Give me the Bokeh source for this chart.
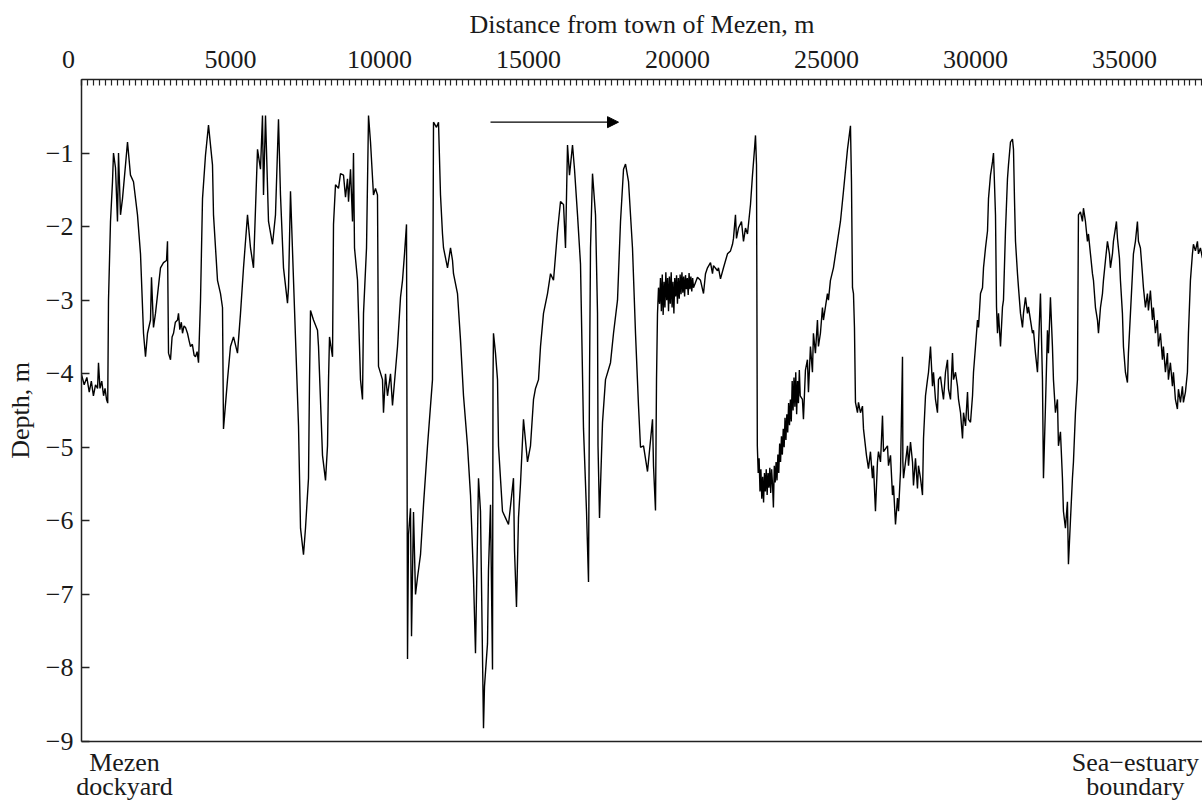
from bokeh.plotting import figure
from bokeh.models import LinearAxis, FixedTicker, Range1d, Arrow, NormalHead
from bokeh.embed import file_html
from bokeh.resources import INLINE

FONT = "Liberation Serif"
FS = "26px"

# ---- data: depth profile along the Mezen estuary ----
distance_m = [
    0, 90, 180, 260, 330, 400, 470, 540, 570, 620, 680, 740, 790, 840, 880,
    906, 973, 1040, 1074, 1141, 1208, 1242, 1309, 1376, 1477, 1544, 1644, 1745, 1879, 1980,
    2081, 2148, 2215, 2316, 2349, 2416, 2483, 2651, 2752, 2853, 2886, 2920, 2987, 3040, 3088,
    3150, 3222, 3255, 3300, 3350, 3390, 3440, 3490, 3557, 3610, 3658, 3720, 3780, 3826, 3880, 3927,
    3994, 4061, 4161, 4262, 4396, 4430, 4564, 4665, 4732, 4765, 4900, 5000, 5101, 5235, 5336,
    5437, 5571, 5672, 5772, 5907, 6007, 6074, 6108, 6175, 6276, 6410, 6510, 6611, 6678, 6779,
    6913, 6947, 7014, 7115, 7283, 7350, 7450, 7517, 7618, 7652, 7685, 7786, 7920, 7954, 8088,
    8189, 8256, 8290, 8323, 8424, 8457, 8524, 8625, 8692, 8793, 8860, 8927, 8961, 9028, 9095,
    9128, 9162, 9263, 9363, 9430, 9464, 9565, 9632, 9699, 9799, 9866, 9933, 9967, 10101, 10135,
    10202, 10269, 10370, 10437, 10538, 10605, 10706, 10773, 10840, 10907, 10941, 10974, 11041, 11075, 11142,
    11209, 11276, 11377, 11478, 11612, 11712, 11779, 11813, 11913, 11981, 12048, 12115, 12149, 12283, 12384,
    12451, 12484, 12618, 12719, 12820, 12954, 13055, 13155, 13222, 13323, 13390, 13491, 13524, 13625, 13658,
    13726, 13793, 13810, 13826, 13893, 13961, 13994, 14128, 14229, 14330, 14397, 14497, 14531, 14598, 14665,
    14732, 14833, 14967, 15068, 15169, 15236, 15337, 15404, 15504, 15639, 15740, 15840, 15975, 16075, 16176,
    16243, 16310, 16377, 16478, 16545, 16646, 16746, 16847, 16948, 17015, 17048, 17082, 17149, 17250, 17317,
    17334, 17384, 17485, 17585, 17753, 17854, 17988, 18089, 18190, 18257, 18358, 18491, 18592, 18693, 18760,
    18861, 18995, 19163, 19196, 19263, 19297, 19330, 19364,
    19400, 19430, 19460, 19490, 19520, 19550, 19580, 19610, 19640, 19670, 19700, 19730, 19760, 19790, 19820,
    19850, 19880, 19910, 19940, 19970, 20000, 20030, 20060, 20090, 20120, 20150, 20180, 20210, 20240, 20270,
    20300, 20330, 20360, 20390, 20420, 20450, 20480, 20510,
    20538, 20672, 20773, 20874, 20941, 21008, 21109, 21176, 21209, 21344, 21377, 21444, 21545,
    21679, 21780, 21847, 21880, 21947, 21981, 22048, 22149, 22216, 22283, 22350, 22451, 22518, 22585, 22619,
    22653,
    22680, 22710, 22740, 22770, 22800, 22830, 22860, 22890, 22920, 22950, 22980, 23010, 23040, 23070, 23100,
    23130, 23160, 23190, 23220, 23250, 23280, 23310, 23340, 23370, 23400, 23430, 23460, 23490, 23520, 23550,
    23580, 23610, 23640, 23670, 23700, 23730, 23760, 23790, 23820, 23850, 23880, 23910, 23940, 23970, 24000,
    24030, 24060, 24090, 24120,
    24194, 24228,
    24295, 24362, 24396, 24463, 24530, 24563, 24630, 24698, 24731, 24798, 24866, 24899, 25033, 25067, 25134,
    25235, 25369, 25470, 25571, 25706, 25806, 25840, 25874, 25907, 25940, 25974, 26041, 26075, 26142, 26209,
    26243, 26343, 26410, 26477, 26544, 26578, 26645, 26712, 26746, 26814, 26881, 26915, 27049, 27082, 27150,
    27216, 27250, 27317, 27384, 27418, 27485, 27552, 27565, 27586, 27720, 27754, 27821, 27888, 27921, 27988,
    28055, 28089, 28156, 28223, 28257, 28324, 28391, 28425, 28492, 28559, 28592, 28659, 28726, 28760, 28827,
    28894, 28928, 28995, 29062, 29096, 29163, 29230, 29264, 29331, 29398, 29432, 29499, 29566, 29600, 29667,
    29734, 29768, 29835, 29902, 29935, 30002, 30069, 30103, 30170, 30237, 30271, 30338, 30405, 30438, 30505,
    30572, 30606, 30673, 30707, 30740, 30774, 30841, 30908, 30941, 31008, 31075, 31109, 31176, 31243, 31277,
    31310, 31344, 31411, 31445, 31512, 31579, 31612, 31679, 31746, 31780, 31847, 31914, 31948, 32014, 32082,
    32115, 32182, 32249, 32283, 32350, 32417, 32450, 32517, 32584, 32618, 32685, 32752, 32786, 32853, 32920,
    32953, 33020, 33087, 33121, 33188, 33255, 33289, 33356, 33423, 33457, 33524, 33591, 33625, 33692, 33759,
    33793, 33860, 33927, 33961, 34028, 34095, 34129, 34196, 34263, 34296, 34363, 34430, 34497, 34531, 34598,
    34631, 34732, 34766, 34833, 34866, 34933, 34967, 35034, 35101, 35134, 35202, 35269, 35302, 35369, 35436,
    35470, 35537, 35604, 35638, 35705, 35772, 35805, 35872, 35939, 35973, 36040, 36107, 36141, 36208, 36275,
    36308, 36376, 36443, 36476, 36543, 36611, 36644, 36711, 36778, 36812, 36879, 36946, 36980, 37047, 37114,
    37148, 37215, 37282, 37316, 37383, 37450, 37484, 37551, 37618,
]
depth_m = [
    -4.01, -4.15, -4.05, -4.25, -4.10, -4.30, -4.15, -4.20, -3.85, -4.20, -4.10, -4.30, -4.20, -4.35, -4.40,
    -3.00, -1.93, -1.39, -1.00, -1.20, -1.93, -1.00, -1.84, -1.62, -1.16, -0.85, -1.30, -1.39, -1.84, -2.37,
    -3.45, -3.77, -3.45, -3.27, -2.69, -3.37, -3.18, -2.56, -2.49, -2.46, -2.20, -3.72, -3.81, -3.50, -3.45,
    -3.30, -3.27, -3.18, -3.40, -3.30, -3.45, -3.35, -3.37, -3.45, -3.55, -3.63, -3.60, -3.75, -3.77, -3.70, -3.85,
    -3.00, -1.62, -1.03, -0.62, -1.16, -1.84, -2.73, -2.91, -3.10, -4.75, -4.08, -3.63, -3.50, -3.72, -3.18,
    -2.56, -1.84, -2.29, -2.56, -0.95, -1.22, -0.49, -1.57, -0.49, -1.93, -2.24, -1.84, -0.54, -1.57, -2.56,
    -3.04, -2.83, -1.52, -2.73, -4.71, -6.10, -6.46, -6.10, -5.42, -4.08, -3.14, -3.27, -3.41, -3.63, -5.11,
    -5.45, -4.98, -4.08, -3.50, -3.77, -1.97, -1.43, -1.48, -1.28, -1.30, -1.60, -1.35, -1.66, -1.22, -1.93,
    -1.00, -2.29, -2.73, -4.08, -4.35, -3.18, -2.29, -0.49, -0.85, -1.57, -1.48, -1.57, -3.90, -4.08, -4.53,
    -4.00, -4.30, -4.00, -4.43, -3.95, -3.63, -2.96, -2.73, -2.37, -1.97, -7.88, -6.19, -5.83, -7.57, -5.88,
    -7.00, -6.77, -6.46, -5.78, -4.98, -4.44, -4.08, -0.58, -0.65, -0.58, -1.57, -2.10, -2.29, -2.56, -2.29,
    -2.46, -2.64, -2.91, -3.54, -4.30, -4.98, -5.65, -6.77, -7.80, -5.42, -5.87, -8.82, -8.25, -7.67, -6.67,
    -5.78, -8.02, -4.08, -3.45, -3.72, -4.08, -4.98, -5.87, -5.96, -6.05, -5.80, -5.42, -6.40, -7.17, -5.96,
    -5.50, -4.62, -5.20, -4.98, -4.35, -4.20, -4.08, -3.63, -3.18, -2.91, -2.64, -2.73, -2.06, -1.66, -1.70,
    -2.29, -0.89, -1.30, -0.89, -1.22, -1.84, -2.51, -4.75, -5.87, -6.83, -4.08, -2.29, -1.28, -1.84, -3.18,
    -4.98, -5.96, -4.66, -4.08, -3.85, -3.45, -3.00, -1.93, -1.22, -1.15, -1.39, -2.29, -3.45, -4.44, -5.00,
    -4.98, -5.33, -4.62, -5.25, -5.86, -4.08, -3.18, -2.83,
    -3.05, -2.70, -3.15, -2.65, -3.20, -2.75, -3.10, -2.62, -3.00, -2.70, -3.15, -2.68, -3.05, -2.62, -3.10,
    -2.75, -3.18, -2.70, -2.95, -2.66, -3.05, -2.70, -2.98, -2.65, -2.92, -2.62, -2.90, -2.68, -2.95, -2.66,
    -2.85, -2.70, -2.93, -2.63, -2.85, -2.68, -2.88, -2.70,
    -2.83, -2.69, -2.73, -2.91, -2.64, -2.56, -2.49, -2.64, -2.53, -2.60, -2.56, -2.71, -2.56,
    -2.37, -2.33, -2.24, -2.16, -1.84, -2.16, -2.02, -1.93, -2.20, -2.02, -2.10, -1.70, -1.30, -0.95, -0.76,
    -1.16,
    -4.98, -5.35, -5.15, -5.60, -5.30, -5.70, -5.40, -5.75, -5.35, -5.60, -5.30, -5.65, -5.35, -5.55, -5.28,
    -5.62, -5.30, -5.50, -5.82, -5.25, -5.48, -5.20, -5.45, -5.10, -5.35, -4.95, -5.20, -4.85, -5.10, -4.75,
    -5.00, -4.60, -4.90, -4.55, -4.80, -4.40, -4.70, -4.35, -4.65, -4.10, -4.50, -4.05, -4.45, -3.98, -4.55,
    -4.10, -4.40, -3.95, -4.30,
    -4.35, -4.62,
    -3.95, -3.81, -4.25, -3.63, -3.98, -3.45, -3.72, -3.27, -3.63, -3.45, -3.10, -3.27, -2.91, -3.00, -2.73,
    -2.56, -2.20, -1.93, -1.52, -0.95, -0.63, -1.39, -2.83, -2.91, -3.37, -4.39, -4.53, -4.39, -4.53, -4.44,
    -4.75, -5.11, -5.29, -5.06, -5.42, -5.25, -5.87, -5.20, -5.06, -5.20, -4.57, -5.06, -4.98, -5.25, -5.11,
    -5.65, -5.52, -6.05, -5.69, -5.87, -5.33, -3.77, -5.20, -5.42, -4.98, -5.25, -4.93, -5.20, -5.52, -5.15,
    -5.56, -5.25, -5.42, -5.65, -4.88, -4.30, -4.08, -3.98, -3.63, -4.17, -3.98, -4.35, -4.53, -4.08, -4.04,
    -4.25, -4.35, -3.98, -3.81, -4.21, -4.35, -3.72, -4.08, -3.98, -4.17, -4.35, -4.53, -4.88, -4.53, -4.71,
    -4.25, -4.62, -4.66, -4.30, -3.98, -3.63, -3.27, -3.37, -2.91, -2.83, -2.56, -2.29, -2.06, -1.62, -1.30,
    -1.12, -1.00, -1.84, -3.09, -3.45, -3.18, -3.63, -3.09, -3.00, -2.06, -1.35, -1.16, -0.85, -0.81, -0.95,
    -1.62, -2.20, -2.64, -2.83, -3.18, -3.37, -3.18, -2.96, -3.18, -3.09, -3.27, -3.45, -3.41, -3.72, -3.98,
    -3.63, -2.91, -4.08, -5.42, -4.44, -3.41, -3.72, -2.96, -3.63, -4.08, -4.53, -4.35, -4.98, -4.79, -5.42,
    -5.87, -6.10, -5.74, -6.59, -6.00, -5.42, -5.20, -4.53, -4.08, -1.84, -1.80, -1.93, -1.75, -1.93, -2.20,
    -2.10, -2.37, -2.64, -2.73, -3.10, -3.27, -3.45, -3.10, -2.91, -2.73, -2.46, -2.20, -2.37, -2.56, -2.37,
    -2.20, -1.93, -2.16, -2.43, -2.73, -3.18, -3.63, -3.98, -4.12, -3.72, -3.18, -2.64, -2.37, -2.20, -1.93,
    -2.20, -2.29, -2.64, -2.83, -3.10, -2.91, -3.14, -2.87, -3.27, -3.10, -3.45, -3.27, -3.63, -3.45, -3.81,
    -3.63, -3.98, -3.72, -4.08, -3.85, -4.17, -3.98, -4.35, -4.48, -4.21, -4.39, -4.17, -4.39, -4.25, -3.98,
    -3.45, -2.73, -2.37, -2.24, -2.33, -2.20, -2.37, -2.29, -2.43,
]

# ---- axes / labels ----
x_ticks_top = [0, 5000, 10000, 15000, 20000, 25000, 30000, 35000]
x_tick_labels_top = ["0\u2003", "5000", "10000", "15000", "20000", "25000", "30000", "35000"]
x_minor_step = 200
y_ticks = [-1, -2, -3, -4, -5, -6, -7, -8, -9]
y_tick_labels = ["\u22121", "\u22122", "\u22123", "\u22124", "\u22125", "\u22126", "\u22127", "\u22128", "\u22129"]
x_title = "Distance from town of Mezen, m"
y_title = "Depth, m"
end_marks = [1443, 35370]
end_mark_labels = ["Mezen\ndockyard", "Sea\u2212estuary\nboundary"]
x_max = 37620

p = figure(width=1202, height=804, x_range=Range1d(0, x_max), y_range=Range1d(-9, 0),
           output_backend="svg", toolbar_location=None,
           x_axis_location=None, y_axis_location=None,
           min_border_left=81, min_border_right=0, min_border_top=79, min_border_bottom=58)
p.outline_line_color = None
p.xgrid.grid_line_color = None
p.ygrid.grid_line_color = None
p.background_fill_color = "white"
p.border_fill_color = "white"

p.title.text = x_title
p.title.align = "center"
p.title.offset = 26
p.title.standoff = 6
p.title.text_font = FONT
p.title.text_font_size = FS
p.title.text_font_style = "normal"
p.title.text_color = "#1a1a1a"

minor = list(range(0, x_max + 1, x_minor_step))
top = LinearAxis(ticker=FixedTicker(ticks=x_ticks_top, minor_ticks=minor),
                 major_label_overrides=dict(zip(x_ticks_top, x_tick_labels_top)))
top.major_tick_in = 6
top.major_tick_out = 0
top.minor_tick_in = 6
top.minor_tick_out = 0
top.major_tick_line_color = "#222222"
top.minor_tick_line_color = "#222222"
top.major_tick_line_width = 1.2
top.minor_tick_line_width = 1.2
top.axis_line_color = "#222222"
top.axis_line_width = 1.5
top.major_label_standoff = 6
top.major_label_text_font = FONT
top.major_label_text_font_size = FS
top.major_label_text_color = "#1a1a1a"
p.add_layout(top, "above")

left = LinearAxis(ticker=FixedTicker(ticks=y_ticks, minor_ticks=[]),
                  major_label_overrides=dict(zip(y_ticks, y_tick_labels)),
                  axis_label=y_title)
left.major_tick_in = 8
left.major_tick_out = 0
left.minor_tick_line_color = None
left.major_tick_line_color = "#222222"
left.major_tick_line_width = 1.5
left.axis_line_color = "#222222"
left.axis_line_width = 1.5
left.major_label_standoff = 8
left.major_label_text_font = FONT
left.major_label_text_font_size = FS
left.major_label_text_color = "#1a1a1a"
left.axis_label_text_font = FONT
left.axis_label_text_font_size = FS
left.axis_label_text_font_style = "normal"
left.axis_label_text_color = "#1a1a1a"
left.axis_label_standoff = 8
p.add_layout(left, "left")

bottom = LinearAxis(ticker=FixedTicker(ticks=end_marks, minor_ticks=[]),
                    major_label_overrides=dict(zip(end_marks, end_mark_labels)))
bottom.major_tick_line_color = None
bottom.minor_tick_line_color = None
bottom.major_tick_in = 0
bottom.major_tick_out = 0
bottom.major_label_standoff = 6
bottom.major_label_text_font = FONT
bottom.major_label_text_font_size = FS
bottom.major_label_text_line_height = 0.85
bottom.major_label_text_color = "#1a1a1a"
bottom.axis_line_color = "#222222"
bottom.axis_line_width = 1.5
p.add_layout(bottom, "below")

p.line(distance_m, depth_m, line_color="black", line_width=1.4)

p.add_layout(Arrow(x_start=13726, y_start=-0.58, x_end=18022, y_end=-0.58,
                   line_color="black", line_width=1.3,
                   end=NormalHead(size=11, fill_color="black", line_color="black")))

open("out.html", "w").write(file_html(p, INLINE))
